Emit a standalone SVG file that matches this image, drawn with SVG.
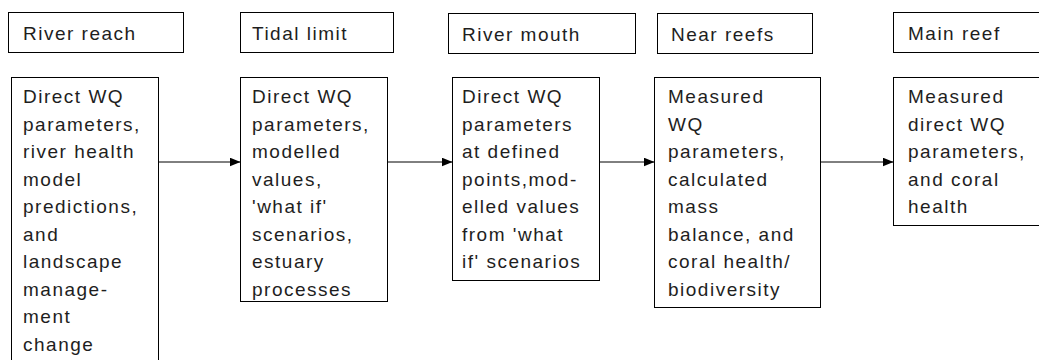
<svg xmlns="http://www.w3.org/2000/svg" width="1039" height="360" viewBox="0 0 1039 360">
  <style>
    .box { fill: #ffffff; stroke: #000000; stroke-width: 1; }
    .txt { font-family: "Liberation Sans", Arial, sans-serif; font-size: 19px; letter-spacing: 1.5px; fill: #1e1e1e; }
    .link { stroke: #000000; stroke-width: 1; fill: none; marker-end: url(#head); }
  </style>
  <defs>
    <marker id="head" markerUnits="userSpaceOnUse" markerWidth="11" markerHeight="9" refX="11" refY="4.5" orient="auto">
      <path d="M0,0 L11,4.5 L0,9 Z" fill="#000000"/>
    </marker>
  </defs>
  <rect width="1039" height="360" fill="#ffffff"/>

  <!-- Stage 1: river reach -->
  <g id="river-reach">
    <rect class="box" x="8.5" y="12.5" width="175" height="40"/>
    <text class="txt" x="23" y="40">River reach</text>
    <rect class="box" x="11.5" y="77.5" width="147" height="300"/>
    <text class="txt" y="103">
      <tspan x="23">Direct WQ</tspan>
      <tspan x="23" dy="27.5">parameters,</tspan>
      <tspan x="23" dy="27.5">river health</tspan>
      <tspan x="23" dy="27.5">model</tspan>
      <tspan x="23" dy="27.5">predictions,</tspan>
      <tspan x="23" dy="27.5">and</tspan>
      <tspan x="23" dy="27.5">landscape</tspan>
      <tspan x="23" dy="27.5">manage-</tspan>
      <tspan x="23" dy="27.5">ment</tspan>
      <tspan x="23" dy="27.5">change</tspan>
    </text>
  </g>

  <!-- Stage 2: tidal limit -->
  <g id="tidal-limit">
    <rect class="box" x="240.5" y="12.5" width="153" height="40"/>
    <text class="txt" x="252" y="40">Tidal limit</text>
    <rect class="box" x="240.5" y="77.5" width="147" height="224"/>
    <text class="txt" y="103">
      <tspan x="252">Direct WQ</tspan>
      <tspan x="252" dy="27.5">parameters,</tspan>
      <tspan x="252" dy="27.5">modelled</tspan>
      <tspan x="252" dy="27.5">values,</tspan>
      <tspan x="252" dy="27.5">'what if'</tspan>
      <tspan x="252" dy="27.5">scenarios,</tspan>
      <tspan x="252" dy="27.5">estuary</tspan>
      <tspan x="252" dy="27.5">processes</tspan>
    </text>
  </g>

  <!-- Stage 3: river mouth -->
  <g id="river-mouth">
    <rect class="box" x="448.5" y="13.5" width="187" height="40"/>
    <text class="txt" x="462" y="41">River mouth</text>
    <rect class="box" x="452.5" y="77.5" width="147" height="203"/>
    <text class="txt" y="103">
      <tspan x="462">Direct WQ</tspan>
      <tspan x="462" dy="27.5">parameters</tspan>
      <tspan x="462" dy="27.5">at defined</tspan>
      <tspan x="462" dy="27.5">points,mod-</tspan>
      <tspan x="462" dy="27.5">elled values</tspan>
      <tspan x="462" dy="27.5">from 'what</tspan>
      <tspan x="462" dy="27.5">if' scenarios</tspan>
    </text>
  </g>

  <!-- Stage 4: near reefs -->
  <g id="near-reefs">
    <rect class="box" x="657.5" y="13.5" width="155" height="40"/>
    <text class="txt" x="671" y="41">Near reefs</text>
    <rect class="box" x="654.5" y="77.5" width="166" height="230"/>
    <text class="txt" y="103">
      <tspan x="668">Measured</tspan>
      <tspan x="668" dy="27.5">WQ</tspan>
      <tspan x="668" dy="27.5">parameters,</tspan>
      <tspan x="668" dy="27.5">calculated</tspan>
      <tspan x="668" dy="27.5">mass</tspan>
      <tspan x="668" dy="27.5">balance, and</tspan>
      <tspan x="668" dy="27.5">coral health/</tspan>
      <tspan x="668" dy="27.5">biodiversity</tspan>
    </text>
  </g>

  <!-- Stage 5: main reef -->
  <g id="main-reef">
    <rect class="box" x="893.5" y="12.5" width="160" height="40"/>
    <text class="txt" x="908" y="40">Main reef</text>
    <rect class="box" x="893.5" y="77.5" width="160" height="148"/>
    <text class="txt" y="103">
      <tspan x="908">Measured</tspan>
      <tspan x="908" dy="27.5">direct WQ</tspan>
      <tspan x="908" dy="27.5">parameters,</tspan>
      <tspan x="908" dy="27.5">and coral</tspan>
      <tspan x="908" dy="27.5">health</tspan>
    </text>
  </g>

  <!-- Flow from each stage to the next -->
  <g id="connectors">
    <line class="link" x1="158.5" y1="162" x2="240.5" y2="162"/>
    <line class="link" x1="387.5" y1="162" x2="452.5" y2="162"/>
    <line class="link" x1="599.5" y1="162" x2="654.5" y2="162"/>
    <line class="link" x1="820.5" y1="162" x2="893.5" y2="162"/>
  </g>
</svg>
